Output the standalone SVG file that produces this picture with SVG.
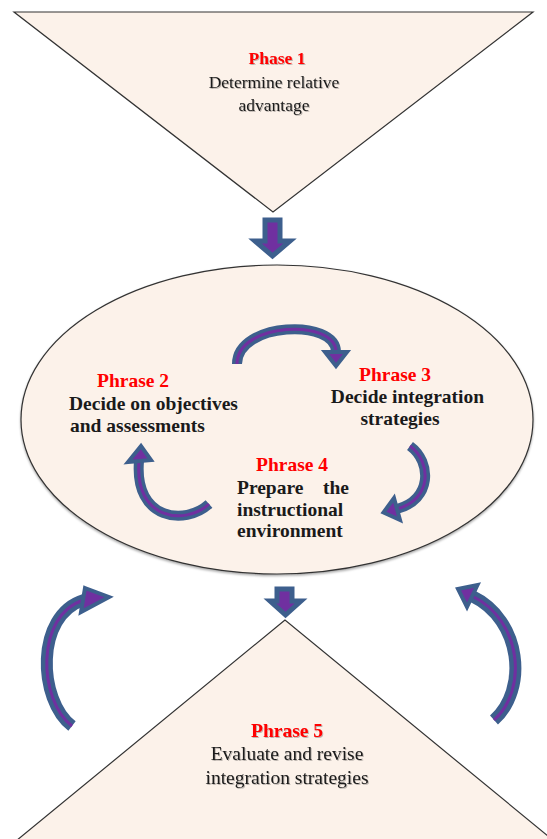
<svg xmlns="http://www.w3.org/2000/svg" width="547" height="839" viewBox="0 0 547 839">
  <defs>
    <filter id="ts" x="-10%" y="-30%" width="120%" height="160%">
      <feDropShadow dx="1" dy="1" stdDeviation="0.6" flood-color="#000" flood-opacity="0.25"/>
    </filter>
    <filter id="ss" x="-5%" y="-5%" width="110%" height="110%">
      <feDropShadow dx="0" dy="1.5" stdDeviation="1" flood-color="#000" flood-opacity="0.35"/>
    </filter>
  </defs>
  <style>
    .shape { fill:#FCF2EA; stroke:#333333; stroke-width:1.2; }
    .t { font-family:"Liberation Serif","Times New Roman",serif; font-size:19.5px; fill:#1a1a1a; }
    .s1 { font-size:17.5px; }
    .b { font-weight:bold; }
    .red { fill:#FF0000; font-weight:bold; }
    .shaft { fill:none; stroke:#3D5F8D; stroke-linecap:butt; }
    .core { fill:none; stroke:#7030A0; stroke-width:3; stroke-linecap:butt; }
    .head { fill:#7030A0; stroke:#3D5F8D; stroke-width:4; stroke-linejoin:miter; }
    .block { fill:#7030A0; stroke:#3D5F8D; stroke-width:5; stroke-linejoin:miter; }
  </style>
  <rect width="547" height="839" fill="#ffffff"/>

  <g id="phase1">
    <polygon class="shape" points="14,12 533,12 273,212"/>
    <g filter="url(#ts)">
      <text class="t s1 red" x="277" y="64" text-anchor="middle">Phase 1</text>
      <text class="t s1" x="274" y="88" text-anchor="middle">Determine relative</text>
      <text class="t s1" x="274" y="111" text-anchor="middle">advantage</text>
    </g>
  </g>

  <g id="cycle">
    <ellipse class="shape" cx="277" cy="419.5" rx="256" ry="154.5" filter="url(#ss)"/>
  </g>

  <g id="phrase2">
    <text class="t red" x="133" y="387" text-anchor="middle">Phrase 2</text>
    <text class="t b" x="69" y="410">Decide on objectives</text>
    <text class="t b" x="70" y="432">and assessments</text>
  </g>

  <g id="phrase3">
    <text class="t red" x="395" y="381" text-anchor="middle">Phrase 3</text>
    <text class="t b" x="407.5" y="403" text-anchor="middle">Decide integration</text>
    <text class="t b" x="400" y="425" text-anchor="middle">strategies</text>
  </g>

  <g id="phrase4">
    <text class="t red" x="292" y="471" text-anchor="middle">Phrase 4</text>
    <text class="t b" y="494"><tspan x="237">Prepare</tspan><tspan x="349" text-anchor="end">the</tspan></text>
    <text class="t b" x="237" y="516">instructional</text>
    <text class="t b" x="237" y="537">environment</text>
  </g>

  <g id="phrase5">
    <polygon class="shape" points="285,620 5,850 565,850"/>
    <g filter="url(#ts)">
      <text class="t red" x="287" y="737" text-anchor="middle">Phrase 5</text>
      <text class="t" x="287" y="760" text-anchor="middle">Evaluate and revise</text>
      <text class="t" x="287" y="784" text-anchor="middle">integration strategies</text>
    </g>
  </g>

  <g id="connectors">
    <polygon class="block" points="265,220 280,220 280,241 290,241 272.5,256 255,241 265,241"/>
    <polygon class="block" points="277,589 292,589 292,601 301,601 285.5,615 270,601 277,601"/>

    <path class="shaft" stroke-width="10" d="M237,364 C237,322 336,318 336,352"/>
    <path class="core" d="M237,364 C237,322 336,318 336,352"/>
    <polygon class="head" points="325,352 347,352 336,366"/>

    <path class="shaft" stroke-width="10" d="M410,446 C432,462 432,500 397,509"/>
    <path class="core" d="M410,446 C432,462 432,500 397,509"/>
    <polygon class="head" points="400,520 394,498 383.5,512.5"/>

    <path class="shaft" stroke-width="10" d="M209,504 C185,526 134,520 139,461"/>
    <path class="core" d="M209,504 C185,526 134,520 139,461"/>
    <polygon class="head" points="128,462 151,460 141,446"/>

    <path class="shaft" stroke-width="12" d="M72,726 C38,700 35,615 84,600"/>
    <path class="core" d="M72,726 C38,700 35,615 84,600"/>
    <polygon class="head" points="85,588 109,597 81,612"/>

    <path class="shaft" stroke-width="12" d="M494,720 C528,690 522,620 472,596"/>
    <path class="core" d="M494,720 C528,690 522,620 472,596"/>
    <polygon class="head" points="477.5,585 467,607 458,589"/>
  </g>
</svg>
